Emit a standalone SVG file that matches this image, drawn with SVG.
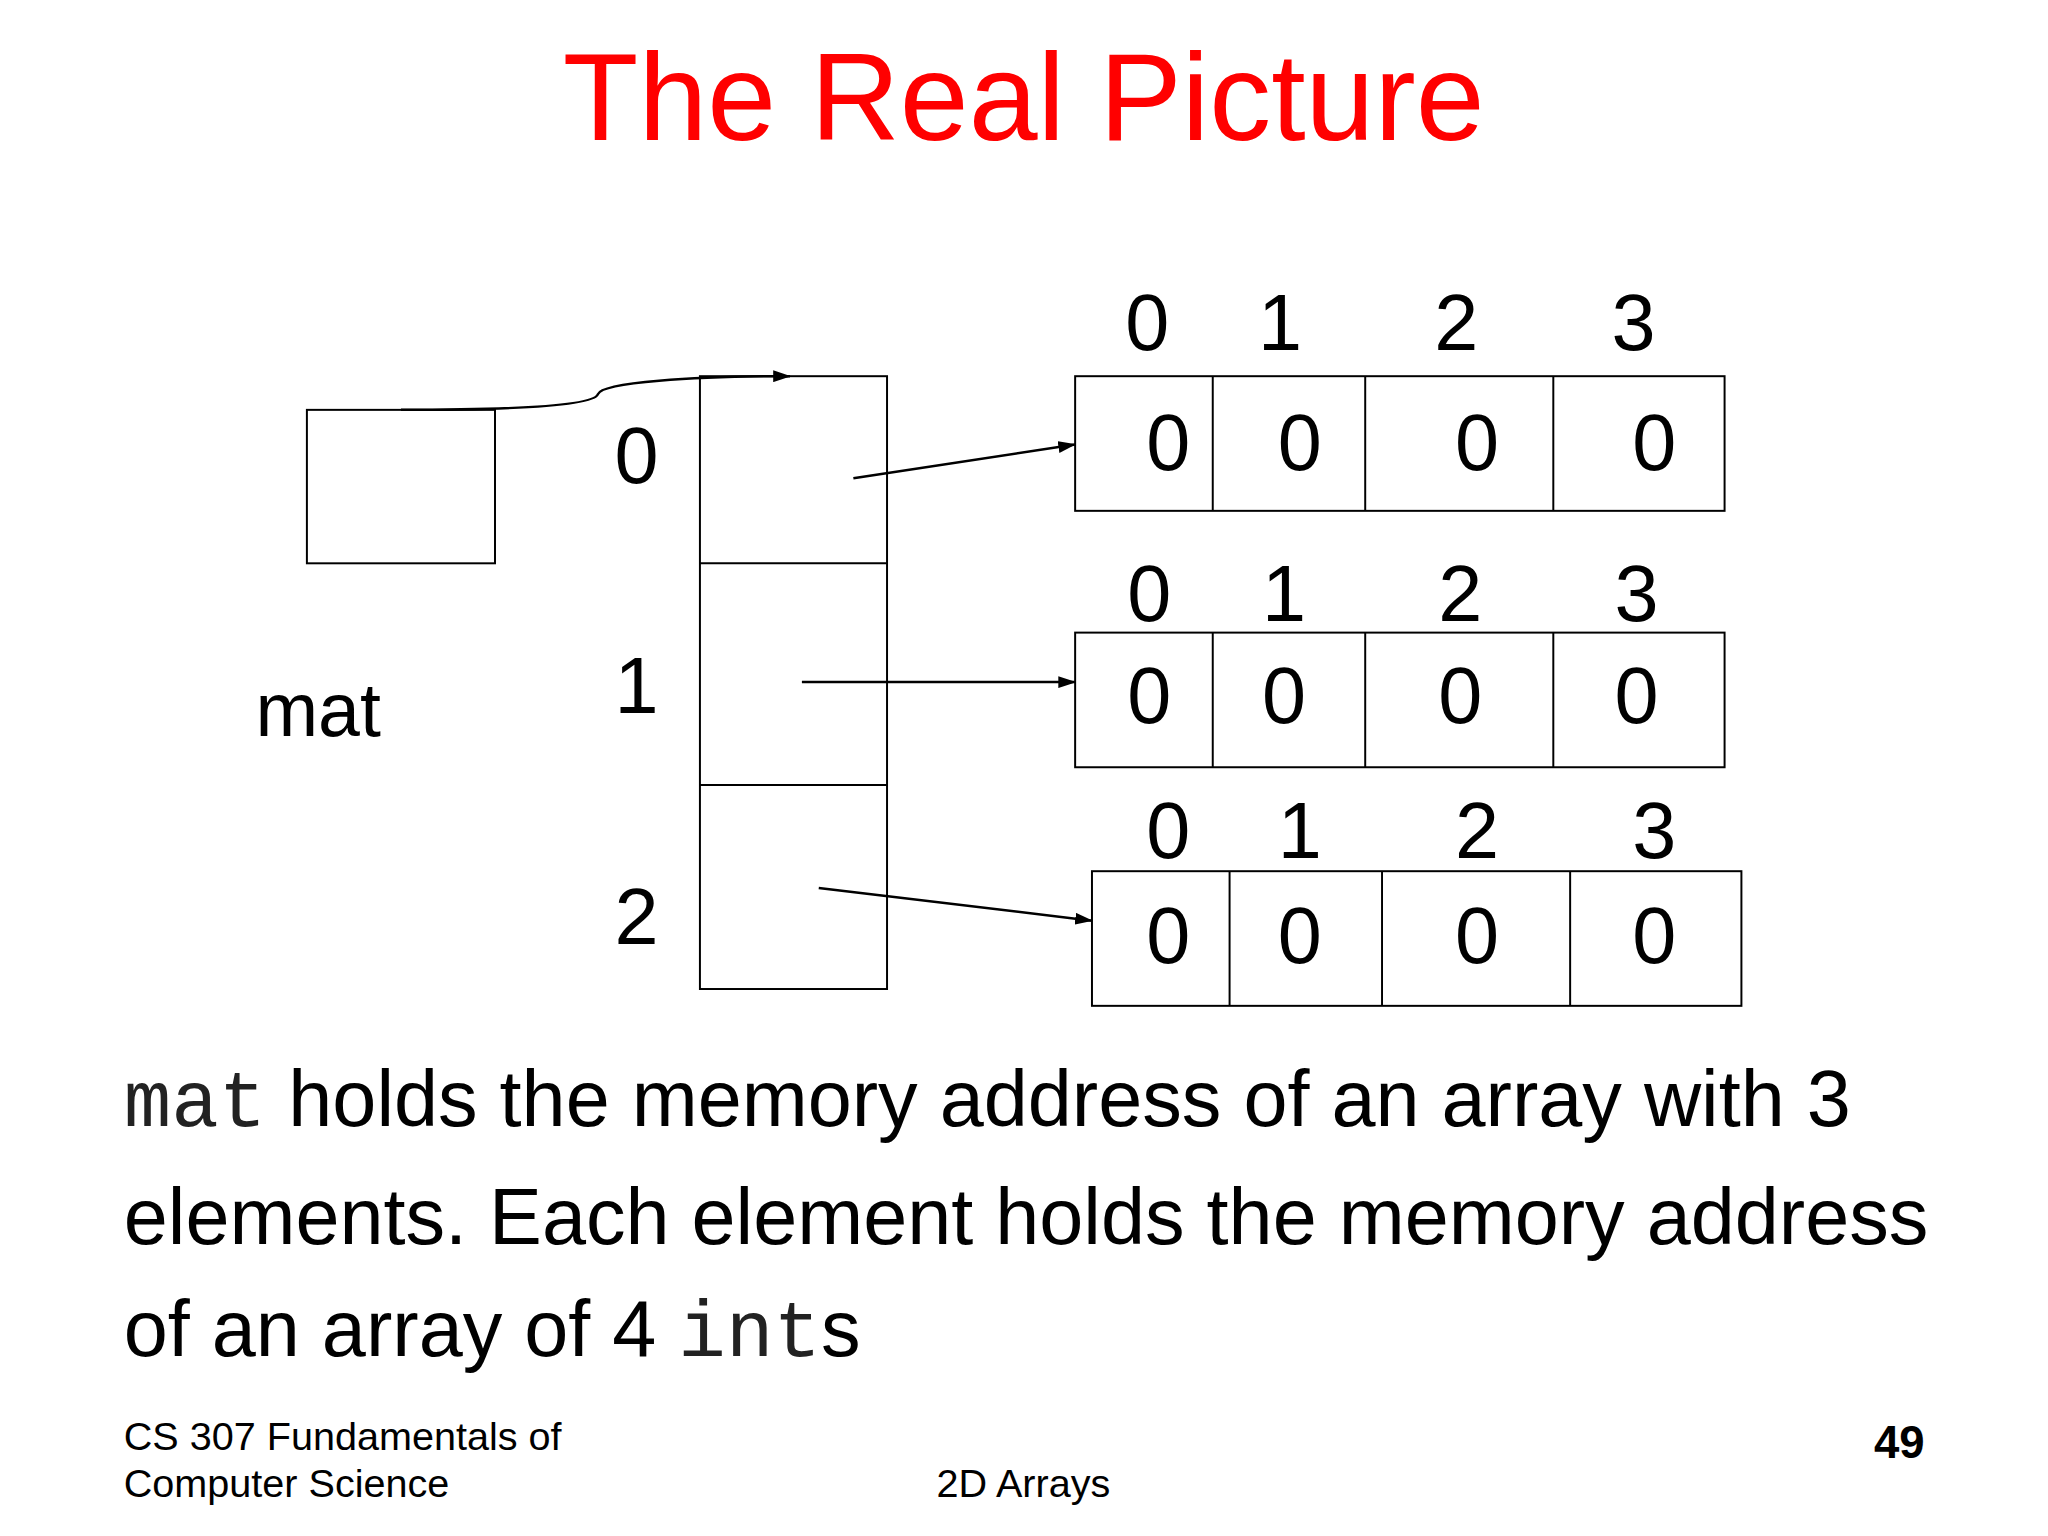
<svg xmlns="http://www.w3.org/2000/svg" width="2048" height="1536" viewBox="0 0 2048 1536">
<style>
text{font-family:"Liberation Sans",Arial,sans-serif;fill:#000}
.d{font-size:80px;text-anchor:middle}
.b{fill:none;stroke:#000;stroke-width:2}
.c{fill:none;stroke:#000;stroke-width:2.5}
.body{font-size:80px}
.m{font-family:"Liberation Mono","Courier New",monospace;fill:#222}
.f{font-size:40px}
</style>
<defs><marker id="a" markerWidth="18" markerHeight="12" refX="17" refY="6" orient="auto" markerUnits="userSpaceOnUse" viewBox="0 0 18 12"><path d="M0,0L18,6L0,12z" fill="#000"/></marker></defs>
<rect width="2048" height="1536" fill="#fff"/>
<g transform="scale(0.99)">
<text x="1034" y="141" font-size="125" text-anchor="middle" style="fill:#f00">The Real Picture</text>
<g id="mat"><rect class="b" x="310" y="414" width="190" height="155"/><text x="258" y="743" font-size="76">mat</text></g>
<g id="col"><rect class="b" x="707" y="380" width="189" height="619"/><line class="b" x1="707" y1="569" x2="896" y2="569"/><line class="b" x1="707" y1="793" x2="896" y2="793"/>
<text class="d" x="643" y="488">0</text><text class="d" x="643" y="720">1</text><text class="d" x="643" y="954">2</text></g>
<g id="row0"><rect class="b" x="1086" y="380" width="656" height="136"/><line class="b" x1="1225" y1="380" x2="1225" y2="516"/><line class="b" x1="1379" y1="380" x2="1379" y2="516"/><line class="b" x1="1569" y1="380" x2="1569" y2="516"/>
<text class="d" x="1159" y="354">0</text><text class="d" x="1293" y="354">1</text><text class="d" x="1471" y="354">2</text><text class="d" x="1650" y="354">3</text>
<text class="d" x="1180" y="475">0</text><text class="d" x="1313" y="475">0</text><text class="d" x="1492" y="475">0</text><text class="d" x="1671" y="475">0</text></g>
<g id="row1"><rect class="b" x="1086" y="639" width="656" height="136"/><line class="b" x1="1225" y1="639" x2="1225" y2="775"/><line class="b" x1="1379" y1="639" x2="1379" y2="775"/><line class="b" x1="1569" y1="639" x2="1569" y2="775"/>
<text class="d" x="1161" y="627">0</text><text class="d" x="1297" y="627">1</text><text class="d" x="1475" y="627">2</text><text class="d" x="1653" y="627">3</text>
<text class="d" x="1161" y="730">0</text><text class="d" x="1297" y="730">0</text><text class="d" x="1475" y="730">0</text><text class="d" x="1653" y="730">0</text></g>
<g id="row2"><rect class="b" x="1103" y="880" width="656" height="136"/><line class="b" x1="1242" y1="880" x2="1242" y2="1016"/><line class="b" x1="1396" y1="880" x2="1396" y2="1016"/><line class="b" x1="1586" y1="880" x2="1586" y2="1016"/>
<text class="d" x="1180" y="867">0</text><text class="d" x="1313" y="867">1</text><text class="d" x="1492" y="867">2</text><text class="d" x="1671" y="867">3</text>
<text class="d" x="1180" y="973">0</text><text class="d" x="1313" y="973">0</text><text class="d" x="1492" y="973">0</text><text class="d" x="1671" y="973">0</text></g>
<g id="connectors">
<path class="c" d="M405,414 C520,414 600,410 604,398 C608,386 700,380 798,380" marker-end="url(#a)"/>
<line class="c" x1="862" y1="483" x2="1086" y2="449" marker-end="url(#a)"/>
<line class="c" x1="810" y1="689" x2="1086" y2="689" marker-end="url(#a)"/>
<line class="c" x1="827" y1="897" x2="1103" y2="930" marker-end="url(#a)"/>
</g>
<text class="body" x="125" y="1137"><tspan class="m">mat</tspan> holds the memory address of an array with 3</text>
<text class="body" x="125" y="1257">elements. Each element holds the memory address</text>
<text class="body" x="125" y="1370">of an array of 4 <tspan class="m">int</tspan>s</text>
<text class="f" x="125" y="1465">CS 307 Fundamentals of</text>
<text class="f" x="125" y="1512">Computer Science</text>
<text class="f" x="946" y="1512">2D Arrays</text>
<text x="1944" y="1473" font-size="46" font-weight="bold" text-anchor="end">49</text>
</g>
</svg>
